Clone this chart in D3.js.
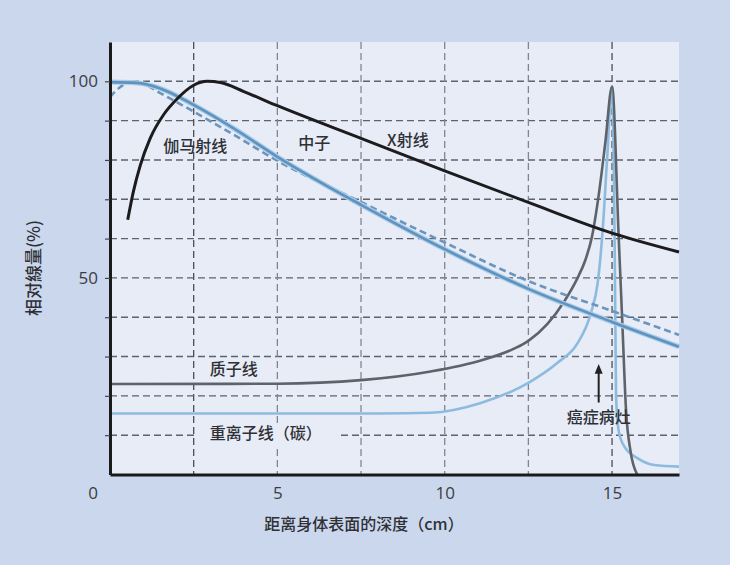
<!DOCTYPE html>
<html>
<head>
<meta charset="utf-8">
<script src="https://cdn.jsdelivr.net/npm/d3@7"></script>
<style>
  body { margin: 0; background: #cbd7ec; }
  svg { display: block; }
  .num { font-family: "Open Sans", "Noto Sans", sans-serif; font-size: 17px; fill: #3a3d44; }
  .lab { font-family: "Noto Sans CJK SC", sans-serif; font-size: 16px; fill: #2e3036; font-weight: 500; }
</style>
</head>
<body>
<div id="chart"></div>
<script>
// depth-dose curves, depth in cm, dose in %

const xrayDepth = [0.53, 0.7, 0.9, 1.2, 1.6, 2.0, 2.5, 2.9, 3.3, 4.0, 5, 7.5, 10, 12.5, 15, 17];
const xrayDose  = [64.8, 72, 78.5, 85.5, 91.5, 95.5, 99, 100, 99.7, 97.4, 93.8, 85.5, 77.2, 69.2, 61.4, 56.6];

const gammaDepth = [0, 0.8, 1.5, 2.5, 3.7, 5, 6.5, 7.5, 10, 12.5, 15, 17];
const gammaDose  = [99.8, 99.6, 98.2, 94, 88, 80.8, 73.3, 68.6, 57.3, 47.2, 38.8, 32.5];

const neutronDepth = [0, 0.3, 0.6, 1.0, 1.5, 2.5, 3.7, 5, 7.5, 10, 12.5, 15, 17];
const neutronDose  = [96, 98.5, 99.8, 99.3, 97, 92.3, 86.4, 79.8, 69.3, 59, 49.2, 41.6, 35.5];

const protonDepth = [0, 5, 7.5, 9.58, 11.08, 12.07, 12.5, 13.07, 13.57, 13.97, 14.2, 14.4, 14.6, 14.8, 15.0, 15.2, 15.3, 15.42, 15.55, 15.75];
const protonDose  = [23, 23.1, 24, 26.2, 29, 32, 34, 38.3, 44, 50, 54.5, 60.5, 71, 84.5, 98.7, 60, 40, 16, 6, 0];

const carbonDepth = [0, 8, 9.58, 11.08, 12.5, 13.37, 13.97, 14.37, 14.57, 14.72, 14.85, 15.0, 15.08, 15.12, 15.2, 15.37, 15.77, 16.26, 17];
const carbonDose  = [15.5, 15.5, 15.7, 18.2, 23.3, 28.4, 33.4, 41.1, 48.7, 62.2, 80, 98.7, 57, 20, 11, 7.1, 4.1, 2.4, 2.0];

const xTicks = [5, 10, 15];
const yTicks = [50, 100];
const xGrid = [2.5, 5, 7.5, 10, 12.5, 15];
const yGrid = [10, 20, 30, 40, 50, 60, 70, 80, 90, 100];

const svgWidth = 730;
const svgHeight = 565;

const margin = { top: 42, right: 51, bottom: 90.5, left: 110 };
const width = svgWidth - margin.left - margin.right;
const height = svgHeight - margin.top - margin.bottom;

const svg = d3.select("#chart")
    .append("svg")
    .attr("width", svgWidth)
    .attr("height", svgHeight);

svg.append("rect")
    .attr("width", svgWidth)
    .attr("height", svgHeight)
    .attr("fill", "#cbd7ec");

const chartGroup = svg.append("g")
    .attr("transform", `translate(${margin.left}, ${margin.top})`);

const x = d3.scaleLinear().domain([0, 17]).range([0, width]);
const y = d3.scaleLinear().domain([0, 110]).range([height, 0]);

// plot background
chartGroup.append("rect")
    .attr("width", width)
    .attr("height", height)
    .attr("fill", "#e7ecf6");

// dashed grid
chartGroup.selectAll(".hgrid")
    .data(yGrid)
    .enter()
    .append("line")
    .attr("x1", 0)
    .attr("x2", width)
    .attr("y1", d => y(d))
    .attr("y2", d => y(d))
    .attr("stroke", "#5d626d")
    .attr("stroke-width", 1.4)
    .attr("stroke-dasharray", "7,4");

chartGroup.selectAll(".vgrid")
    .data(xGrid)
    .enter()
    .append("line")
    .attr("x1", d => x(d))
    .attr("x2", d => x(d))
    .attr("y1", 0)
    .attr("y2", height)
    .attr("stroke", d => (d === 2.5 || d === 15) ? "#4a4e57" : "#80858f")
    .attr("stroke-width", 1.3)
    .attr("stroke-dasharray", "7,4");

// mask behind carbon label
chartGroup.append("rect")
    .attr("x", x(2.6))
    .attr("y", y(10) - 12)
    .attr("width", x(6.8) - x(2.6))
    .attr("height", 24)
    .attr("fill", "#e7ecf6");

const line = d3.line()
    .x(d => x(d[0]))
    .y(d => y(d[1]))
    .curve(d3.curveMonotoneX);

const zip = (a, b) => a.map((v, i) => [v, b[i]]);

const series = [
    { pts: zip(carbonDepth, carbonDose), color: "#8dbbe0", w: 2.6, dash: null },
    { pts: zip(protonDepth, protonDose), color: "#5e6269", w: 2.6, dash: null },
    { pts: zip(neutronDepth, neutronDose), color: "#6b95bd", w: 2.6, dash: "7,4" },
    { pts: zip(gammaDepth, gammaDose), color: "#a9cdea", w: 5, dash: null },
    { pts: zip(gammaDepth, gammaDose), color: "#5f92be", w: 2.6, dash: null },
    { pts: zip(xrayDepth, xrayDose), color: "#1c1c1e", w: 3, dash: null }
];

chartGroup.selectAll(".curve")
    .data(series)
    .enter()
    .append("path")
    .attr("d", d => line(d.pts))
    .attr("fill", "none")
    .attr("stroke", d => d.color)
    .attr("stroke-width", d => d.w)
    .attr("stroke-dasharray", d => d.dash)
    .attr("stroke-linejoin", "round");

// axes
const leftAxis = d3.axisLeft(y)
    .tickValues(yGrid)
    .tickSize(5)
    .tickSizeOuter(0)
    .tickPadding(7)
    .tickFormat(d => yTicks.includes(d) ? d : "");

const bottomAxis = d3.axisBottom(x)
    .tickValues(xTicks)
    .tickSize(0)
    .tickSizeOuter(0)
    .tickPadding(12);

const yAxis = chartGroup.append("g").call(leftAxis);
const xAxis = chartGroup.append("g")
    .attr("transform", `translate(0, ${height})`)
    .call(bottomAxis);

[xAxis, yAxis].forEach(a => {
    a.select(".domain").attr("stroke", "#1a1a1a").attr("stroke-width", 3);
    a.selectAll("line").attr("stroke", "#444").attr("stroke-width", 1.2);
    a.selectAll("text").attr("class", "num").attr("font-family", null).attr("font-size", null);
});

chartGroup.append("text")
    .attr("class", "num")
    .attr("x", x(0) - 17)
    .attr("y", height + 24)
    .attr("text-anchor", "middle")
    .text("0");

// curve labels
const labels = [
    { t: "伽马射线", d: 2.55, v: 83.5 },
    { t: "中子", d: 6.1, v: 84.2 },
    { t: "X射线", d: 8.9, v: 85 },
    { t: "质子线", d: 3.7, v: 26.7 },
    { t: "重离子线（碳）", d: 4.65, v: 10.5 },
    { t: "癌症病灶", d: 14.6, v: 14.4 }
];

chartGroup.selectAll(".lbl")
    .data(labels)
    .enter()
    .append("text")
    .attr("class", "lab")
    .attr("x", d => x(d.d))
    .attr("y", d => y(d.v))
    .attr("dy", "0.35em")
    .attr("text-anchor", "middle")
    .text(d => d.t);

// arrow to the tumour
const ax = x(14.6);
chartGroup.append("line")
    .attr("x1", ax).attr("x2", ax)
    .attr("y1", y(18.3)).attr("y2", y(26))
    .attr("stroke", "#222").attr("stroke-width", 2);
chartGroup.append("path")
    .attr("d", `M${ax},${y(28.1)} L${ax - 4},${y(25.6)} L${ax + 4},${y(25.6)} Z`)
    .attr("fill", "#222");

// axis titles
svg.append("text")
    .attr("class", "lab")
    .style("font-size", "17px")
    .attr("transform", "translate(40, 268) rotate(-90)")
    .attr("text-anchor", "middle")
    .text("相对線量(%)");

svg.append("text")
    .attr("class", "lab")
    .attr("x", 364)
    .attr("y", 530)
    .attr("text-anchor", "middle")
    .text("距离身体表面的深度（cm）");
</script>
</body>
</html>
